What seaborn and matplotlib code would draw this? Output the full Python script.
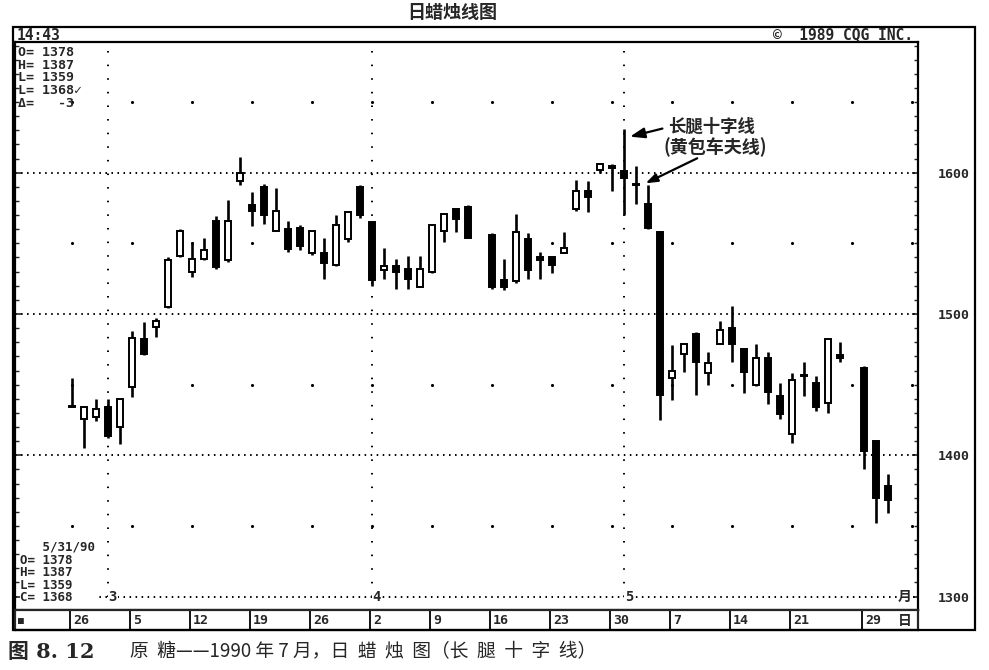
import numpy as np
import pandas as pd
import matplotlib
matplotlib.use('Agg')
import matplotlib.pyplot as plt
import seaborn as sns
from matplotlib.patches import Rectangle
from matplotlib.ticker import MultipleLocator

# 原糖 1990年7月限 日足 (2/26 - 5/31)
start = '1990-02-26'
holidays = ['1990-04-13', '1990-05-28']

opens = [1434, 1426, 1427, 1434, 1420, 1448, 1482, 1491, 1505, 1541,
         1530, 1539, 1566, 1538, 1594, 1577, 1590, 1559, 1560, 1561,
         1543, 1543, 1535, 1553, 1590, 1565, 1531, 1534, 1532, 1519,
         1530, 1559, 1574, 1576,
         1556, 1524, 1523, 1553, 1540, 1540, 1543, 1574, 1587, 1602,
         1605, 1601, 1592, 1578, 1558, 1455, 1472, 1486, 1458, 1479,
         1490, 1475, 1450, 1469, 1442, 1415, 1457, 1451, 1437, 1471,
         1462, 1410, 1378]
highs = [1455, 1435, 1440, 1440, 1440, 1488, 1494, 1497, 1540, 1560,
         1551, 1554, 1569, 1581, 1611, 1586, 1592, 1589, 1566, 1563,
         1559, 1554, 1570, 1572, 1591, 1565, 1547, 1539, 1541, 1541,
         1564, 1571, 1575, 1577,
         1557, 1539, 1571, 1557, 1544, 1541, 1558, 1595, 1594, 1607,
         1606, 1631, 1605, 1591, 1559, 1478, 1479, 1487, 1473, 1495,
         1506, 1476, 1479, 1473, 1451, 1458, 1466, 1456, 1482, 1480,
         1463, 1411, 1387]
lows = [1434, 1405, 1424, 1412, 1408, 1441, 1471, 1484, 1504, 1540,
        1526, 1538, 1532, 1537, 1591, 1562, 1564, 1559, 1544, 1545,
        1542, 1525, 1534, 1551, 1568, 1520, 1525, 1518, 1518, 1519,
        1529, 1551, 1558, 1554,
        1518, 1517, 1522, 1525, 1525, 1529, 1543, 1573, 1572, 1600,
        1587, 1570, 1578, 1560, 1425, 1439, 1459, 1443, 1450, 1479,
        1466, 1444, 1449, 1436, 1426, 1409, 1442, 1431, 1430, 1466,
        1390, 1352, 1359]
closes = [1434, 1434, 1433, 1414, 1440, 1483, 1472, 1495, 1538, 1559,
          1539, 1545, 1533, 1566, 1600, 1573, 1570, 1573, 1546, 1548,
          1559, 1536, 1563, 1572, 1570, 1524, 1534, 1530, 1525, 1532,
          1563, 1571, 1567, 1554,
          1519, 1519, 1558, 1531, 1538, 1535, 1547, 1587, 1583, 1606,
          1603, 1596, 1591, 1561, 1443, 1460, 1479, 1466, 1465, 1489,
          1479, 1459, 1469, 1445, 1429, 1453, 1456, 1434, 1482, 1469,
          1403, 1370, 1368]

week_labels = ['26', '5', '12', '19', '26', '2', '9', '16', '23', '30',
               '7', '14', '21', '29']
week_dates = ['1990-02-26', '1990-03-05', '1990-03-12', '1990-03-19',
              '1990-03-26', '1990-04-02', '1990-04-09', '1990-04-16',
              '1990-04-23', '1990-04-30', '1990-05-07', '1990-05-14',
              '1990-05-21', '1990-05-29']
month_labels = ['3', '4', '5']
month_dates = ['1990-03-01', '1990-04-02', '1990-05-01']
price_grid = [1300, 1400, 1500, 1600]
price_half = [1350, 1450, 1550, 1650]

dates = pd.bdate_range(start, '1990-05-31', freq='C', holidays=holidays)
df = pd.DataFrame({'date': dates, 'open': opens, 'high': highs,
                   'low': lows, 'close': closes})
# 営業日ベースの位置 (休場日は空ける)
def xpos(d):
    return np.busday_count(start, np.array(d, dtype='datetime64[D]'))
df['x'] = xpos(df['date'].values.astype('datetime64[D]'))

sns.set_style('white')
plt.rcParams['font.family'] = ['Noto Sans CJK SC', 'DejaVu Sans']
mono = ['DejaVu Sans Mono', 'DejaVu Sans']

W, H = 989, 670
fig = plt.figure(figsize=(W / 100, H / 100), dpi=100)
fx = lambda px: px / W
fy = lambda py: 1 - py / H

ax = fig.add_axes([fx(15), fy(610), fx(918) - fx(15), fy(42) - fy(610)])
ax.set_xlim(-4.75, 70.5)
ax.set_ylim(1290.5, 1692.5)
for s in ax.spines.values():
    s.set_linewidth(1.6)
    s.set_color('black')

# グリッド
for p in price_grid:
    ax.axhline(p, color='black', lw=1.4, ls=(0, (0.8, 2.3)), zorder=1)
mx = xpos(month_dates)
ax.vlines(mx, 1300, 1692.5, color='black', lw=1.4, ls=(0, (0.8, 6.2)), zorder=1)
gx, gy = np.meshgrid(np.arange(0, 71, 5), price_half)
sns.scatterplot(x=gx.ravel(), y=gy.ravel(), s=5, color='black',
                linewidth=0, ax=ax, legend=False, zorder=1)

# ローソク足
up = df['close'] > df['open']
body_lo = df[['open', 'close']].min(axis=1)
body_h = (df['close'] - df['open']).abs().clip(lower=1.0)
ax.vlines(df['x'], df['low'], df['high'], color='black', lw=1.9, zorder=2)
ax.bar(df['x'], body_h, bottom=body_lo, width=0.5,
       color=np.where(up, 'white', 'black'), edgecolor='black',
       linewidth=1.4, zorder=3)

# 価格目盛り
ax.yaxis.tick_right()
ax.set_yticks(price_grid)
ax.set_yticklabels(price_grid, fontweight='bold', fontsize=9.5, family=mono)
ax.yaxis.set_minor_locator(MultipleLocator(10))
ax.tick_params(axis='y', which='major', direction='in', length=4, width=1.2,
               pad=14, left=True, right=True)
ax.tick_params(axis='y', which='minor', direction='in', length=3, width=1,
               left=True, right=True)
ax.set_xticks([])

for lab, m in zip(month_labels, mx):
    ax.text(m + 0.4, 1300, lab, ha='center', va='center', fontsize=10,
            fontweight='bold', family=mono, zorder=4,
            bbox=dict(fc='white', ec='none', pad=0.6))
ax.text(69.4, 1300, '月', ha='center', va='center', fontsize=10,
        fontweight='bold', zorder=4, bbox=dict(fc='white', ec='none', pad=0.6))

# 注釈
ax.annotate('长腿十字线', xy=(46.5, 1625.5), xytext=(49.7, 1632.3),
            ha='left', va='center', fontsize=12.5, fontweight='bold',
            arrowprops=dict(arrowstyle='-|>,head_length=0.7,head_width=0.25',
                            color='black', lw=1.6, shrinkA=2, shrinkB=0,
                            relpos=(0, 0.5)))
ax.text(49.3, 1618.2, '(黄包车夫线)', ha='left', va='center',
        fontsize=13, fontweight='bold')
ax.annotate('', xy=(47.8, 1592.5), xytext=(52.1, 1610.2),
            arrowprops=dict(arrowstyle='-|>,head_length=0.7,head_width=0.25',
                            color='black', lw=1.6, shrinkA=0, shrinkB=0))

# 日付欄
axd = fig.add_axes([fx(15), fy(630), fx(918) - fx(15), fy(610) - fy(630)])
axd.set_xlim(ax.get_xlim())
axd.set_ylim(0, 1)
axd.set_xticks([])
axd.set_yticks([])
for s in axd.spines.values():
    s.set_linewidth(1.6)
wx = xpos(week_dates) - 0.17
axd.vlines(wx, 0, 1, color='black', lw=1.3)
for lab, x in zip(week_labels, wx):
    axd.text(x + 0.25, 0.45, lab, ha='left', va='center', fontsize=9.5,
             fontweight='bold', family=mono)
axd.text(-4.5, 0.45, '■', ha='left', va='center', fontsize=7, family=mono)
axd.text(69.4, 0.45, '日', ha='center', va='center', fontsize=10,
         fontweight='bold')

# 外枠とヘッダー
fig.add_artist(Rectangle((fx(13), fy(630)), fx(975) - fx(13), fy(27) - fy(630),
                         transform=fig.transFigure, fill=False, lw=1.6,
                         ec='black'))
fig.text(fx(17), fy(35), '14:43', ha='left', va='center', fontsize=10.5,
         fontweight='bold', family=mono)
fig.text(fx(913), fy(35), '©  1989 CQG INC.', ha='right', va='center',
         fontsize=10.5, fontweight='bold', family=mono)

info_top = ['O= 1378', 'H= 1387', 'L= 1359', 'L= 1368✓', 'Δ=   -3']
fig.text(fx(18), fy(46), '\n'.join(info_top), ha='left', va='top',
         fontsize=9.5, fontweight='bold', family=mono, linespacing=0.97)
info_bot = ['   5/31/90', 'O= 1378', 'H= 1387', 'L= 1359', 'C= 1368']
fig.text(fx(20), fy(541), '\n'.join(info_bot), ha='left', va='top',
         fontsize=9, fontweight='bold', family=mono, linespacing=0.96,
         bbox=dict(fc='white', ec='none', pad=0.2))

fig.text(fx(452), fy(12), '日蜡烛线图', ha='center', va='center',
         fontsize=13, fontweight='bold')
fig.text(fx(8), fy(652), '图 8. 12', ha='left', va='center', fontsize=15,
         fontweight='bold', family=['DejaVu Serif', 'Noto Sans CJK SC'])
fig.text(fx(130), fy(652), '原  糖——1990 年 7 月，日  蜡  烛  图（长  腿  十  字  线）',
         ha='left', va='center', fontsize=13.5)

fig.savefig('out.png', dpi=100)
